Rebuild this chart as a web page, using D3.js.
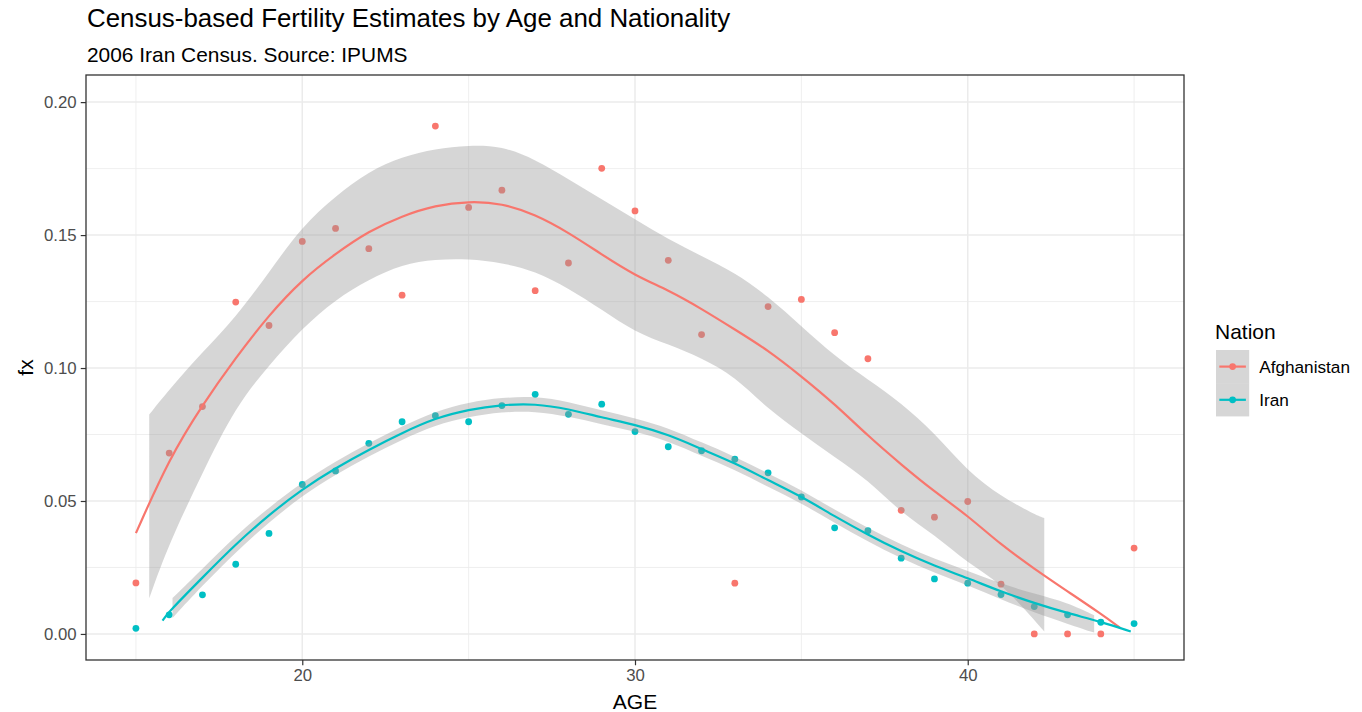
<!DOCTYPE html>
<html>
<head>
<meta charset="utf-8">
<script src="https://d3js.org/d3.v7.min.js"></script>
<style>
  body { margin: 0; background: #fff; }
  svg text { font-family: "Liberation Sans", Arial, Helvetica, sans-serif; }
</style>
</head>
<body>
<div id="chart"></div>
<script>

// observed fx by single year of age
const ages = [15, 16, 17, 18, 19, 20, 21, 22, 23, 24, 25, 26, 27, 28, 29, 30,
              31, 32, 33, 34, 35, 36, 37, 38, 39, 40, 41, 42, 43, 44, 45];
const afghanFx = [0.0192, 0.0680, 0.0855, 0.1248, 0.1160, 0.1476, 0.1525, 0.1449, 0.1274, 0.1910, 0.1604,
                  0.1669, 0.1291, 0.1395, 0.1751, 0.1591, 0.1405, 0.1126, 0.0191, 0.1231, 0.1258,
                  0.1133, 0.1035, 0.0465, 0.0439, 0.0498, 0.0187, 0.0000, 0.0000, 0.0000, 0.0323];
const iranFx = [0.0021, 0.0072, 0.0147, 0.0262, 0.0378, 0.0562, 0.0613, 0.0717, 0.0798, 0.0821, 0.0798,
                0.0859, 0.0901, 0.0826, 0.0864, 0.0761, 0.0704, 0.0689, 0.0657, 0.0606, 0.0515,
                0.0399, 0.0388, 0.0285, 0.0207, 0.0191, 0.0148, 0.0103, 0.0072, 0.0044, 0.0039];

// loess fit
const afghanFitAge = [15, 16, 17, 18, 19, 20, 21, 22, 23, 24, 25, 26, 27, 28, 29, 30,
                      31, 32, 33, 34, 35, 36, 37, 38, 39, 40, 41, 42, 43, 44, 44.6];
const afghanFit = [0.0379, 0.0660, 0.0862, 0.1039, 0.1200, 0.1333, 0.1430, 0.1515, 0.1572,
                   0.1612, 0.1627, 0.1620, 0.1578, 0.1510, 0.1427, 0.1348, 0.1293, 0.1223, 0.1145, 0.1067,
                   0.0969, 0.0865, 0.0745, 0.0637, 0.0535, 0.0445, 0.0335, 0.0245, 0.0160, 0.0076, 0.0021];
const afghanBandAge = [15.4, 16, 17, 18, 19, 20, 21, 22, 23, 24, 25, 26, 27, 28, 29, 30,
                       31, 32, 33, 34, 35, 36, 37, 38, 39, 40, 41, 42, 42.3];
const afghanUpper = [0.0825, 0.0919, 0.1060, 0.1190, 0.1360, 0.1534, 0.1647, 0.1740, 0.1795,
                     0.1825, 0.1838, 0.1835, 0.1785, 0.1710, 0.1635, 0.1559, 0.1484, 0.1421, 0.1359, 0.1270,
                     0.1157, 0.1045, 0.0957, 0.0869, 0.0756, 0.0611, 0.0517, 0.0450, 0.0436];
const afghanLower = [0.0134, 0.0342, 0.0605, 0.0856, 0.1010, 0.1150, 0.1258, 0.1333, 0.1390,
                     0.1409, 0.1411, 0.1396, 0.1365, 0.1300, 0.1220, 0.1135, 0.1089, 0.1038, 0.0969, 0.0845,
                     0.0755, 0.0665, 0.0580, 0.0455, 0.0373, 0.0266, 0.0191, 0.0053, 0.0009];

const iranFitAge = [15.8, 16, 17, 18, 19, 20, 21, 22, 23, 24, 25, 26, 27, 28, 29, 30,
                    31, 32, 33, 34, 35, 36, 37, 38, 39, 40, 41, 42, 43, 44, 44.9];
const iranFit = [0.0050, 0.0085, 0.0212, 0.0338, 0.0448, 0.0545, 0.0624, 0.0693, 0.0756, 0.0812, 0.0844,
                 0.0862, 0.0866, 0.0846, 0.0814, 0.0787, 0.0750, 0.0695, 0.0643, 0.0578, 0.0517,
                 0.0442, 0.0373, 0.0310, 0.0256, 0.0210, 0.0159, 0.0116, 0.0078, 0.0046, 0.0009];
const iranBandAge = [16.1, 17, 18, 19, 20, 21, 22, 23, 24, 25, 26, 27, 28, 29, 30,
                     31, 32, 33, 34, 35, 36, 37, 38, 39, 40, 41, 42, 43, 43.8];
const iranUpper = [0.0135, 0.0245, 0.0370, 0.0476, 0.0570, 0.0649, 0.0718, 0.0781, 0.0838, 0.0871, 0.0889,
                   0.0894, 0.0874, 0.0840, 0.0812, 0.0775, 0.0720, 0.0668, 0.0603, 0.0542, 0.0467, 0.0398,
                   0.0336, 0.0282, 0.0237, 0.0189, 0.0151, 0.0118, 0.0070];
const iranLower = [0.0060, 0.0182, 0.0308, 0.0420, 0.0520, 0.0599, 0.0668, 0.0731, 0.0786, 0.0817, 0.0835,
                   0.0838, 0.0818, 0.0788, 0.0762, 0.0725, 0.0670, 0.0618, 0.0553, 0.0492, 0.0417, 0.0348,
                   0.0284, 0.0230, 0.0183, 0.0129, 0.0081, 0.0038, 0.0005];

// axis breaks
const xMajor = [20, 30, 40];
const xMinor = [15, 25, 35, 45];
const yMajor = [0, 0.05, 0.10, 0.15, 0.20];
const yMinor = [0.025, 0.075, 0.125, 0.175];

const nations = ["Afghanistan", "Iran"];
const colors = ["#F8766D", "#00BFC4"];

const width = 1362, height = 712;
const panel = {left: 86, right: 1184, top: 75, bottom: 660};

const svg = d3.select("#chart")
  .append("svg")
    .attr("width", width)
    .attr("height", height);

const x = d3.scaleLinear().domain([13.5, 46.5]).range([panel.left, panel.right]);
const y = d3.scaleLinear().domain([-0.0098, 0.2102]).range([panel.bottom, panel.top]);
const color = d3.scaleOrdinal().domain(nations).range(colors);

svg.append("clipPath").attr("id", "clip")
  .append("rect")
    .attr("x", panel.left).attr("y", panel.top)
    .attr("width", panel.right - panel.left).attr("height", panel.bottom - panel.top);

// grid
const grid = svg.append("g");
grid.selectAll(".xminor").data(xMinor).join("line")
    .attr("x1", d => x(d)).attr("x2", d => x(d))
    .attr("y1", panel.top).attr("y2", panel.bottom)
    .attr("stroke", "#EBEBEB").attr("stroke-width", 0.8);
grid.selectAll(".yminor").data(yMinor).join("line")
    .attr("y1", d => y(d)).attr("y2", d => y(d))
    .attr("x1", panel.left).attr("x2", panel.right)
    .attr("stroke", "#EBEBEB").attr("stroke-width", 0.8);
grid.selectAll(".xmajor").data(xMajor).join("line")
    .attr("x1", d => x(d)).attr("x2", d => x(d))
    .attr("y1", panel.top).attr("y2", panel.bottom)
    .attr("stroke", "#EBEBEB").attr("stroke-width", 1.5);
grid.selectAll(".ymajor").data(yMajor).join("line")
    .attr("y1", d => y(d)).attr("y2", d => y(d))
    .attr("x1", panel.left).attr("x2", panel.right)
    .attr("stroke", "#EBEBEB").attr("stroke-width", 1.5);

const plot = svg.append("g").attr("clip-path", "url(#clip)");

// points
const points = [];
ages.forEach((a, i) => points.push({age: a, fx: afghanFx[i], nation: "Afghanistan"}));
ages.forEach((a, i) => points.push({age: a, fx: iranFx[i], nation: "Iran"}));

plot.append("g")
  .selectAll("circle")
  .data(points)
  .join("circle")
    .attr("cx", d => x(d.age))
    .attr("cy", d => y(d.fx))
    .attr("r", 3.4)
    .attr("fill", d => color(d.nation));

// smooths: ribbon then line, per group
const smooths = [
  {nation: "Afghanistan",
   band: afghanBandAge.map((a, i) => ({age: a, lo: afghanLower[i], hi: afghanUpper[i]})),
   fit: afghanFitAge.map((a, i) => ({age: a, v: afghanFit[i]}))},
  {nation: "Iran",
   band: iranBandAge.map((a, i) => ({age: a, lo: iranLower[i], hi: iranUpper[i]})),
   fit: iranFitAge.map((a, i) => ({age: a, v: iranFit[i]}))}
];

const area = d3.area()
    .x(d => x(d.age))
    .y0(d => y(d.lo))
    .y1(d => y(d.hi))
    .curve(d3.curveBasis);
const line = d3.line()
    .x(d => x(d.age))
    .y(d => y(d.v))
    .curve(d3.curveBasis);

smooths.forEach(s => {
  plot.append("path")
      .attr("d", area(s.band))
      .attr("fill", "#999999")
      .attr("fill-opacity", 0.4);
  plot.append("path")
      .attr("d", line(s.fit))
      .attr("fill", "none")
      .attr("stroke", color(s.nation))
      .attr("stroke-width", 2.2);
});

// panel border
svg.append("rect")
    .attr("x", panel.left).attr("y", panel.top)
    .attr("width", panel.right - panel.left).attr("height", panel.bottom - panel.top)
    .attr("fill", "none")
    .attr("stroke", "#333333")
    .attr("stroke-width", 1.3);

// axes
const xAxis = svg.append("g")
    .attr("transform", `translate(0,${panel.bottom})`)
    .call(d3.axisBottom(x).tickValues(xMajor).tickSize(5.25).tickPadding(4.2).tickFormat(d3.format("d")));
const yAxis = svg.append("g")
    .attr("transform", `translate(${panel.left},0)`)
    .call(d3.axisLeft(y).tickValues(yMajor).tickSize(5.25).tickPadding(4.2).tickFormat(d3.format(".2f")));

[xAxis, yAxis].forEach(g => {
  g.select(".domain").remove();
  g.selectAll(".tick line").attr("stroke", "#333333").attr("stroke-width", 1.2);
  g.selectAll(".tick text")
      .attr("fill", "#4D4D4D")
      .style("font-size", "16.8px")
      .style("font-family", "'Liberation Sans', Arial, sans-serif");
});

// titles
svg.append("text")
    .attr("x", 87).attr("y", 27)
    .style("font-size", "25.9px")
    .attr("fill", "#000")
    .text("Census-based Fertility Estimates by Age and Nationality");
svg.append("text")
    .attr("x", 87).attr("y", 62)
    .style("font-size", "20.9px")
    .attr("fill", "#000")
    .text("2006 Iran Census. Source: IPUMS");

svg.append("text")
    .attr("x", (panel.left + panel.right) / 2).attr("y", 709)
    .attr("text-anchor", "middle")
    .style("font-size", "21px")
    .text("AGE");
svg.append("text")
    .attr("transform", `translate(33,${(panel.top + panel.bottom) / 2}) rotate(-90)`)
    .attr("text-anchor", "middle")
    .style("font-size", "21px")
    .text("fx");

// legend
const legend = svg.append("g").attr("transform", "translate(1216,350)");
legend.append("text")
    .attr("x", -1).attr("y", -11)
    .style("font-size", "21px")
    .text("Nation");

const keySize = 33.2;
const keys = legend.selectAll(".key")
  .data(nations)
  .join("g")
    .attr("transform", (d, i) => `translate(0,${i * keySize})`);
keys.append("rect")
    .attr("width", keySize).attr("height", keySize)
    .attr("fill", "#999999").attr("fill-opacity", 0.4);
keys.append("line")
    .attr("x1", keySize * 0.1).attr("x2", keySize * 0.9)
    .attr("y1", keySize / 2).attr("y2", keySize / 2)
    .attr("stroke", d => color(d))
    .attr("stroke-width", 2.2);
keys.append("circle")
    .attr("cx", keySize / 2).attr("cy", keySize / 2)
    .attr("r", 3.4)
    .attr("fill", d => color(d));
keys.append("text")
    .attr("x", keySize + 10)
    .attr("y", keySize / 2)
    .attr("dy", "0.35em")
    .style("font-size", "17.2px")
    .text(d => d);

</script>
</body>
</html>
